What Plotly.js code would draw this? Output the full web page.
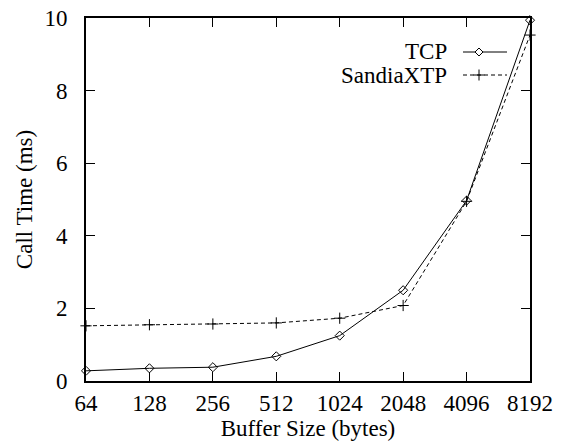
<!DOCTYPE html>
<html>
<head>
<meta charset="utf-8">
<script src="https://cdn.plot.ly/plotly-3.0.1.min.js"></script>
<style>html,body{margin:0;padding:0;background:#fff;}</style>
</head>
<body>
<div id="chart" style="width:566px;height:443px;"></div>
<script>
const categories = ["64", "128", "256", "512", "1024", "2048", "4096", "8192"];
const tcpValues = [0.28, 0.35, 0.38, 0.68, 1.25, 2.5, 4.97, 9.94];
const xtpValues = [1.52, 1.55, 1.57, 1.60, 1.73, 2.08, 4.95, 9.53];
const seriesNames = ["TCP", "SandiaXTP"];
const yTicks = [0, 2, 4, 6, 8, 10];

const xIdx = categories.map((c, i) => i);
const font = {family: "Liberation Serif", size: 23, color: "#000000"};

const traces = [
  {x: xIdx, y: tcpValues, name: seriesNames[0], mode: "lines+markers",
   line: {color: "#000", width: 1},
   marker: {symbol: "diamond-open", size: 7, color: "#000", line: {width: 1, color: "#000"}},
   showlegend: false, cliponaxis: false},
  {x: xIdx, y: xtpValues, name: seriesNames[1], mode: "lines+markers",
   line: {color: "#000", width: 1, dash: "4px,3px"},
   marker: {symbol: "cross-thin-open", size: 8, color: "#000", line: {width: 1, color: "#000"}},
   showlegend: false, cliponaxis: false}
];

const W = 566, H = 443, L = 86, R = 36, T = 18, B = 62;
const pw = W - L - R, ph = H - T - B;
function px(x){ return (x - L) / pw; }
function py(y){ return (H - B - y) / ph; }

// legend (text on left, sample on right, as in the reference)
const legendRows = [{y: 52, dash: "solid", sym: "diamond"}, {y: 75, dash: "dash", sym: "plus"}];
const annotations = [];
const shapes = [];
legendRows.forEach((r, i) => {
  annotations.push({xref: "paper", yref: "paper", x: px(449), y: py(r.y), xanchor: "right", yanchor: "middle",
    text: seriesNames[i], showarrow: false, font: font});
  shapes.push({type: "line", xref: "paper", yref: "paper", x0: px(463), x1: px(507), y0: py(r.y), y1: py(r.y),
    line: {color: "#000", width: 1, dash: r.dash === "dash" ? "4px,3px" : "solid"}});
  const cx = px(479), cy = py(r.y);
  if (r.sym === "diamond") {
    const dx = 4 / pw, dy = 4 / ph;
    shapes.push({type: "path", xref: "paper", yref: "paper",
      path: `M ${cx - dx} ${cy} L ${cx} ${cy + dy} L ${cx + dx} ${cy} L ${cx} ${cy - dy} Z`,
      fillcolor: "#fff", line: {color: "#000", width: 1}});
  } else {
    const ex = 5.5 / pw, ey = 5.5 / ph;
    shapes.push({type: "path", xref: "paper", yref: "paper",
      path: `M ${cx - ex} ${cy} L ${cx + ex} ${cy} M ${cx} ${cy - ey} L ${cx} ${cy + ey}`,
      line: {color: "#000", width: 1}});
  }
});

const layout = {
  width: W, height: H,
  margin: {l: L, r: R, t: T, b: B, pad: 0},
  paper_bgcolor: "#fff", plot_bgcolor: "#fff",
  font: font,
  showlegend: false,
  xaxis: {
    range: [0, 7], tickvals: xIdx, ticktext: categories,
    ticks: "inside", ticklen: 9, tickwidth: 1, tickcolor: "#000",
    showline: true, linecolor: "#000", linewidth: 2, mirror: "ticks",
    showgrid: false, zeroline: false, tickfont: font,
    title: {text: "Buffer Size (bytes)", font: {family: "Liberation Serif", size: 23, color: "#000000"}, standoff: 0}
  },
  yaxis: {
    range: [0, 10], tickvals: yTicks, ticktext: yTicks.map(String),
    ticks: "inside", ticklen: 9, tickwidth: 1, tickcolor: "#000",
    showline: true, linecolor: "#000", linewidth: 2, mirror: "ticks",
    showgrid: false, zeroline: false, tickfont: font, ticklabelstandoff: 12,
    title: {text: "Call Time (ms)", font: {family: "Liberation Serif", size: 23, color: "#000000"}, standoff: 5}
  },
  annotations: annotations,
  shapes: shapes
};

Plotly.newPlot("chart", traces, layout, {staticPlot: true, displayModeBar: false});
</script>
</body>
</html>
